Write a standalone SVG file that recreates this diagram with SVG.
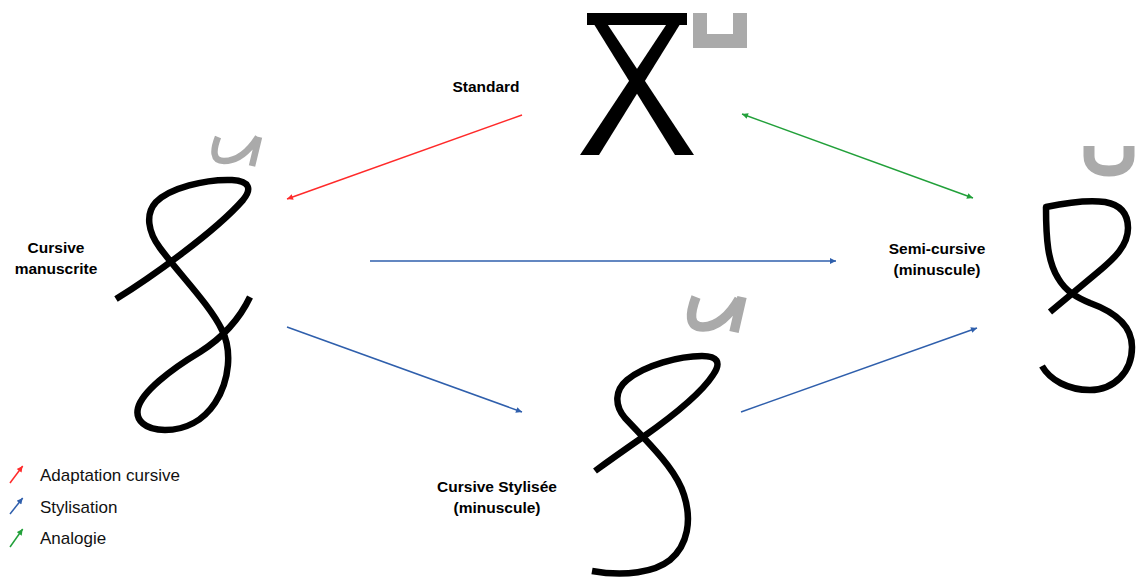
<svg xmlns="http://www.w3.org/2000/svg" width="1136" height="584" viewBox="0 0 1136 584">
<style>
.lbl{font-family:"Liberation Sans",Arial,sans-serif;font-weight:bold;font-size:15.5px;fill:#000;text-anchor:middle}
.leg{font-family:"Liberation Sans",Arial,sans-serif;font-size:17px;fill:#111}
.glyph{fill:none;stroke:#000;stroke-width:6.5;stroke-linecap:butt;stroke-linejoin:round}
.mark{fill:none;stroke:#aaaaaa;stroke-linecap:butt;stroke-linejoin:round}
.red{stroke:#ff2a2a;stroke-width:1.5;fill:none}
.blue{stroke:#2f5fac;stroke-width:1.5;fill:none}
.green{stroke:#22a03a;stroke-width:1.5;fill:none}
</style>
<defs>
<marker id="ar" viewBox="0 0 10 10" refX="10" refY="5" markerWidth="5" markerHeight="4" orient="auto-start-reverse"><path d="M0,0 L10,5 L0,10 z" fill="#ff2a2a"/></marker>
<marker id="ab" viewBox="0 0 10 10" refX="10" refY="5" markerWidth="5" markerHeight="4" orient="auto-start-reverse"><path d="M0,0 L10,5 L0,10 z" fill="#2f5fac"/></marker>
<marker id="ag" viewBox="0 0 10 10" refX="10" refY="5" markerWidth="5" markerHeight="4" orient="auto-start-reverse"><path d="M0,0 L10,5 L0,10 z" fill="#22a03a"/></marker>
</defs>
<rect width="1136" height="584" fill="#fff"/>

<g id="standard">
<rect x="587" y="13" width="100" height="12" fill="#000"/>
<polygon points="587,13 600,13 694,155 675,155" fill="#000"/>
<polygon points="687,13 674,13 580,155 599,155" fill="#000"/>
<polygon points="693,13 707,13 707,34 733,34 733,13 747,13 747,48 693,48" fill="#aaaaaa"/>
<text class="lbl" x="486" y="92">Standard</text>
</g>

<g id="manuscrite">
<path class="glyph" d="M116,299 C150,278 215,232 243,200 C252,189 250,181 232,180 C205,179 170,188 156,202 C145,214 148,232 160,248 C180,275 210,305 222,330 C232,350 230,380 215,403 C203,421 185,430 165,430 C145,430 135,420 138,408 C142,392 170,370 200,352 C222,338 240,318 250,297"/>
<path class="mark" stroke-width="6.5" d="M218,137 C213,150 212,161 224,161 C237,161 249,151 258,137 M259,137 L252,166"/>
<text class="lbl" x="56" y="253">Cursive</text>
<text class="lbl" x="56" y="274">manuscrite</text>
</g>

<g id="semicursive">
<path class="glyph" d="M1050,312 L1098,272 C1115,258 1128,245 1128,228 C1128,215 1122,205 1105,202 C1090,200 1065,203 1046,207 C1046,240 1048,262 1058,278 C1066,292 1078,298 1090,303 C1115,312 1132,325 1132,347 C1132,372 1114,390 1090,390 C1068,390 1050,380 1042,366" stroke-linejoin="miter"/>
<path class="mark" stroke-width="11" d="M1089,146 L1089,156 C1089,166 1097,171 1109,171 C1121,171 1129,166 1129,156 L1129,146"/>
<text class="lbl" x="937" y="254">Semi-cursive</text>
<text class="lbl" x="937" y="275">(minuscule)</text>
</g>

<g id="stylisee">
<path class="glyph" d="M595,471 C610,460 630,446 643,437 C670,418 700,395 713,375 C722,362 717,356 702,356 C680,356 645,365 627,380 C615,390 614,405 625,418 L643,437 C660,455 678,475 684,495 C692,520 688,545 670,560 C655,572 625,577 592,571"/>
<path class="mark" stroke-width="9.5" d="M696,297 C690,313 688,327 703,327 C717,327 730,315 739,299 M742,297 L734,332"/>
<text class="lbl" x="497" y="492">Cursive Stylisée</text>
<text class="lbl" x="497" y="513">(minuscule)</text>
</g>

<g id="connectors">
<line class="red" x1="522" y1="115" x2="287" y2="199" marker-end="url(#ar)"/>
<line class="green" x1="742" y1="114" x2="973" y2="198" marker-start="url(#ag)" marker-end="url(#ag)"/>
<line class="blue" x1="370" y1="261" x2="836" y2="261" marker-end="url(#ab)"/>
<line class="blue" x1="287" y1="327" x2="522" y2="412" marker-end="url(#ab)"/>
<line class="blue" x1="741" y1="412" x2="977" y2="328" marker-end="url(#ab)"/>
</g>

<g id="legend">
<line class="red" x1="10" y1="483" x2="22.7" y2="466" marker-end="url(#ar)"/>
<line class="blue" x1="10" y1="514" x2="22.7" y2="498" marker-end="url(#ab)"/>
<line class="green" x1="10" y1="547" x2="22.7" y2="529" marker-end="url(#ag)"/>
<text class="leg" x="40" y="481">Adaptation cursive</text>
<text class="leg" x="40" y="513">Stylisation</text>
<text class="leg" x="40" y="544">Analogie</text>
</g>
</svg>
